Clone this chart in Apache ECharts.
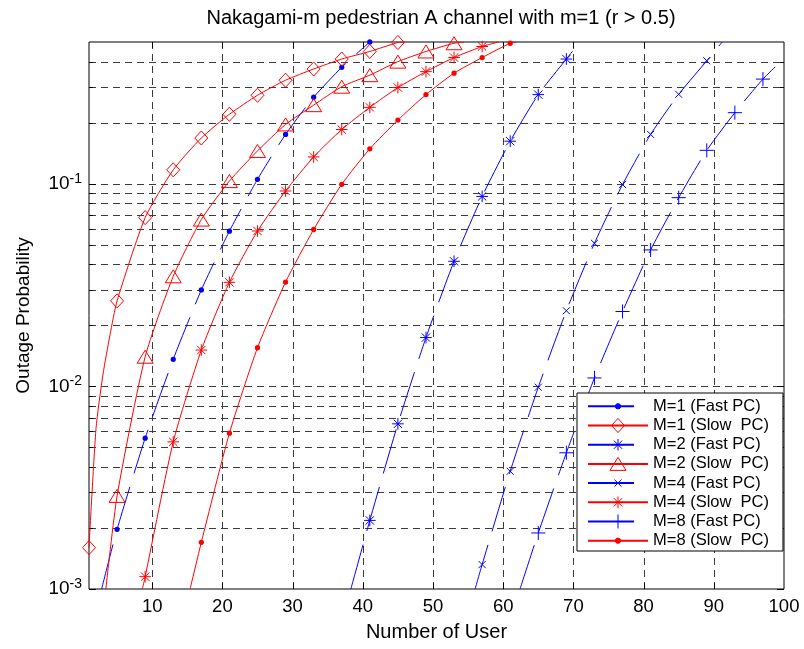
<!DOCTYPE html>
<html>
<head>
<meta charset="utf-8">
<script src="https://cdn.jsdelivr.net/npm/echarts@6/dist/echarts.min.js"></script>
<style>
html, body { margin: 0; padding: 0; background: #fff; }
#chart { width: 804px; height: 649px; }
</style>
</head>
<body>
<div id="chart"></div>
<script>
// Outage probability vs. number of users, [users, probability] pairs.
// Markers sit on every 4th user (1, 5, 9, ...); other points only shape the line.
const m1Fast = [[2.8,0.001],[5,0.00197],[9,0.00555],[13,0.0136],[17,0.0299],[21,0.0583],[25,0.105],[29,0.175],[33,0.267],[37,0.375],[41,0.5]];
const m1Slow = [[1,0.0016],[2,0.0062],[3,0.0115],[4,0.018],[5,0.0264],[9,0.068],[13,0.117],[17,0.168],[21,0.22],[25,0.273],[29,0.324],[33,0.368],[37,0.412],[41,0.449],[45,0.497],[46,0.5]];
const m2Fast = [[38.3,0.001],[41,0.00218],[45,0.00653],[49,0.0174],[53,0.0414],[57,0.0865],[61,0.162],[65,0.275],[69,0.412],[70.9,0.5]];
const m2Slow = [[3.4,0.001],[5,0.00288],[9,0.014],[13,0.0349],[17,0.0665],[21,0.103],[25,0.145],[29,0.196],[33,0.244],[37,0.301],[41,0.343],[45,0.40],[49,0.449],[53,0.493],[54.4,0.5]];
const m4Fast = [[56,0.001],[57,0.00132],[61,0.00381],[65,0.0099],[69,0.0236],[73,0.0508],[77,0.099],[81,0.175],[85,0.276],[89,0.404],[91.2,0.5]];
const m4Slow = [[8.6,0.001],[9,0.00115],[13,0.00532],[17,0.0151],[21,0.0326],[25,0.0584],[29,0.092],[33,0.1355],[37,0.185],[41,0.238],[45,0.298],[49,0.357],[53,0.419],[57,0.475],[59.3,0.5]];
const m8Fast = [[62.4,0.001],[65,0.00189],[69,0.0047],[73,0.011],[77,0.0234],[81,0.0471],[85,0.0853],[89,0.146],[93,0.224],[97,0.328],[100,0.415]];
const m8Slow = [[15.4,0.001],[17,0.0017],[21,0.00587],[25,0.0155],[29,0.0327],[33,0.0594],[37,0.0993],[41,0.1486],[45,0.206],[49,0.275],[53,0.351],[57,0.419],[61,0.493],[61.9,0.5]];

const seriesNames = ['M=1 (Fast PC)', 'M=1 (Slow  PC)', 'M=2 (Fast PC)', 'M=2 (Slow  PC)',
                     'M=4 (Fast PC)', 'M=4 (Slow  PC)', 'M=8 (Fast PC)', 'M=8 (Slow  PC)'];

// Axis ticks
const xTicks = [10, 20, 30, 40, 50, 60, 70, 80, 90, 100];
const xGrid = [10, 20, 30, 40, 50, 60, 70, 80, 90];
const yMajor = [0.001, 0.01, 0.1];
const yMinor = [0.002,0.003,0.004,0.005,0.006,0.007,0.008,0.009,
                0.02,0.03,0.04,0.05,0.06,0.07,0.08,0.09,
                0.2,0.3,0.4];

const FONT = '"Liberation Sans", Arial, Helvetica, sans-serif';
const BLUE = '#0000ff';
const RED = '#ff0000';
const SYM = 17.6;   // symbol box (px); glyphs drawn inside a 20x20 unit box

// Marker glyphs in a 20x20 box; corner stubs keep the box size fixed.
const BOX = 'M0,0L0,0.01M20,20L20,19.99';
const symbols = {
  dot: 'path://' + BOX + 'M13,10A3,3,0,1,1,7,10A3,3,0,1,1,13,10Z',
  diamond: 'path://' + BOX + 'M10,2L17.4,10L10,18L2.6,10Z',
  triangle: 'path://' + BOX + 'M10,2.6L19.1,17.4L0.9,17.4Z',
  star: 'path://' + BOX + 'M3.4,10L16.6,10M10,3.4L10,16.6M5.3,5.3L14.7,14.7M14.7,5.3L5.3,14.7',
  cross: 'path://' + BOX + 'M6,6L14,14M14,6L6,14',
  plus: 'path://' + BOX + 'M10,2L10,18M2,10L18,10'
};

function toData(points) {
  return points.map(function (p) {
    const onMarker = Number.isInteger(p[0]) && (p[0] - 1) % 4 === 0;
    return onMarker ? { value: p } : { value: p, symbol: 'none' };
  });
}

function curve(name, points, color, symbol, filled, dashed) {
  return {
    name: name,
    type: 'line',
    data: toData(points),
    smooth: 0.2,
    clip: true,
    showSymbol: true,
    showAllSymbol: true,
    symbol: symbols[symbol],
    symbolSize: SYM,
    lineStyle: { color: color, width: 1, type: dashed ? [46, 14] : 'solid' },
    itemStyle: {
      color: filled ? color : 'rgba(0,0,0,0)',
      borderColor: color,
      borderWidth: filled ? 0 : 1
    },
    emphasis: { disabled: true },
    z: 3
  };
}

// Dashed grid lines plus inward tick marks on all four sides
const gridDash = [7, 5];
const gridColor = '#3c3c3c';

const yGridSeries = {
  type: 'custom',
  silent: true,
  z: 1,
  data: yMajor.concat(yMinor).map(function (v) { return [1, v]; }),
  renderItem: function (params, api) {
    const cs = params.coordSys;
    const v = api.value(1);
    const y = Math.round(api.coord([1, v])[1]) + 0.5;
    const len = yMajor.indexOf(v) >= 0 ? 7 : 4;
    const children = [
      { type: 'line', shape: { x1: cs.x, y1: y, x2: cs.x + len, y2: y }, style: { stroke: '#000', lineWidth: 1 } },
      { type: 'line', shape: { x1: cs.x + cs.width - len, y1: y, x2: cs.x + cs.width, y2: y }, style: { stroke: '#000', lineWidth: 1 } }
    ];
    if (v > 0.001) {
      children.unshift({ type: 'line', shape: { x1: cs.x, y1: y, x2: cs.x + cs.width, y2: y },
                         style: { stroke: gridColor, lineWidth: 1, lineDash: gridDash } });
    }
    return { type: 'group', children: children };
  }
};

const xGridSeries = {
  type: 'custom',
  silent: true,
  z: 1,
  data: xGrid.map(function (v) { return [v, 0.01]; }),
  renderItem: function (params, api) {
    const cs = params.coordSys;
    const x = Math.round(api.coord([api.value(0), 0.01])[0]) + 0.5;
    const top = cs.y, bottom = cs.y + cs.height;
    return {
      type: 'group',
      children: [
        { type: 'line', shape: { x1: x, y1: top, x2: x, y2: bottom }, style: { stroke: gridColor, lineWidth: 1, lineDash: gridDash } },
        { type: 'line', shape: { x1: x, y1: bottom - 6, x2: x, y2: bottom }, style: { stroke: '#000', lineWidth: 1 } },
        { type: 'line', shape: { x1: x, y1: top, x2: x, y2: top + 6 }, style: { stroke: '#000', lineWidth: 1 } }
      ]
    };
  }
};

const chart = echarts.init(document.getElementById('chart'), null, { renderer: 'canvas' });

chart.setOption({
  animation: false,
  backgroundColor: '#ffffff',
  title: {
    text: 'Nakagami-m pedestrian A channel with m=1 (r > 0.5)',
    left: 436,
    textAlign: 'center',
    top: 3,
    textStyle: { fontFamily: FONT, fontSize: 20, fontWeight: 'normal', color: '#000' }
  },
  grid: {
    left: 89, right: 20, top: 42, bottom: 60,
    show: true, borderColor: '#000', borderWidth: 1, backgroundColor: '#fff'
  },
  legend: {
    data: seriesNames,
    orient: 'vertical',
    left: 577,
    top: 393,
    itemWidth: 60,
    itemHeight: 22,
    itemGap: 0.6,
    padding: [4, 14, 1, 10],
    backgroundColor: '#fff',
    borderColor: '#000',
    borderWidth: 1,
    borderRadius: 0,
    selectedMode: false,
    itemStyle: { borderWidth: 1 },
    textStyle: { fontFamily: FONT, fontSize: 16.5, color: '#000' }
  },
  xAxis: {
    type: 'value',
    min: 1,
    max: 100,
    axisLine: { show: false },
    axisTick: { show: false },
    splitLine: { show: false },
    axisLabel: { customValues: xTicks, color: '#000', fontFamily: FONT, fontSize: 18.5, margin: 8 },
    name: 'Number of User',
    nameLocation: 'middle',
    nameGap: 33,
    nameTextStyle: { fontFamily: FONT, fontSize: 20, color: '#000' }
  },
  yAxis: {
    type: 'log',
    logBase: 10,
    min: 0.001,
    max: 0.5,
    axisLine: { show: false },
    axisTick: { show: false },
    splitLine: { show: false },
    axisLabel: {
      customValues: yMajor,
      margin: 7,
      formatter: function (v) {
        return '{b|10}{s|' + Math.round(Math.log10(v)) + '}';
      },
      rich: {
        b: { fontFamily: FONT, fontSize: 19, color: '#000', lineHeight: 24 },
        s: { fontFamily: FONT, fontSize: 14, color: '#000', verticalAlign: 'top' }
      }
    },
    name: 'Outage Probability',
    nameLocation: 'middle',
    nameGap: 56,
    nameTextStyle: { fontFamily: FONT, fontSize: 19, color: '#000' }
  },
  series: [
    xGridSeries,
    yGridSeries,
    curve(seriesNames[0], m1Fast, BLUE, 'dot', true, true),
    curve(seriesNames[1], m1Slow, RED, 'diamond', false, false),
    curve(seriesNames[2], m2Fast, BLUE, 'star', false, true),
    curve(seriesNames[3], m2Slow, RED, 'triangle', false, false),
    curve(seriesNames[4], m4Fast, BLUE, 'cross', false, true),
    curve(seriesNames[5], m4Slow, RED, 'star', false, false),
    curve(seriesNames[6], m8Fast, BLUE, 'plus', false, true),
    curve(seriesNames[7], m8Slow, RED, 'dot', true, false)
  ]
});
</script>
</body>
</html>
